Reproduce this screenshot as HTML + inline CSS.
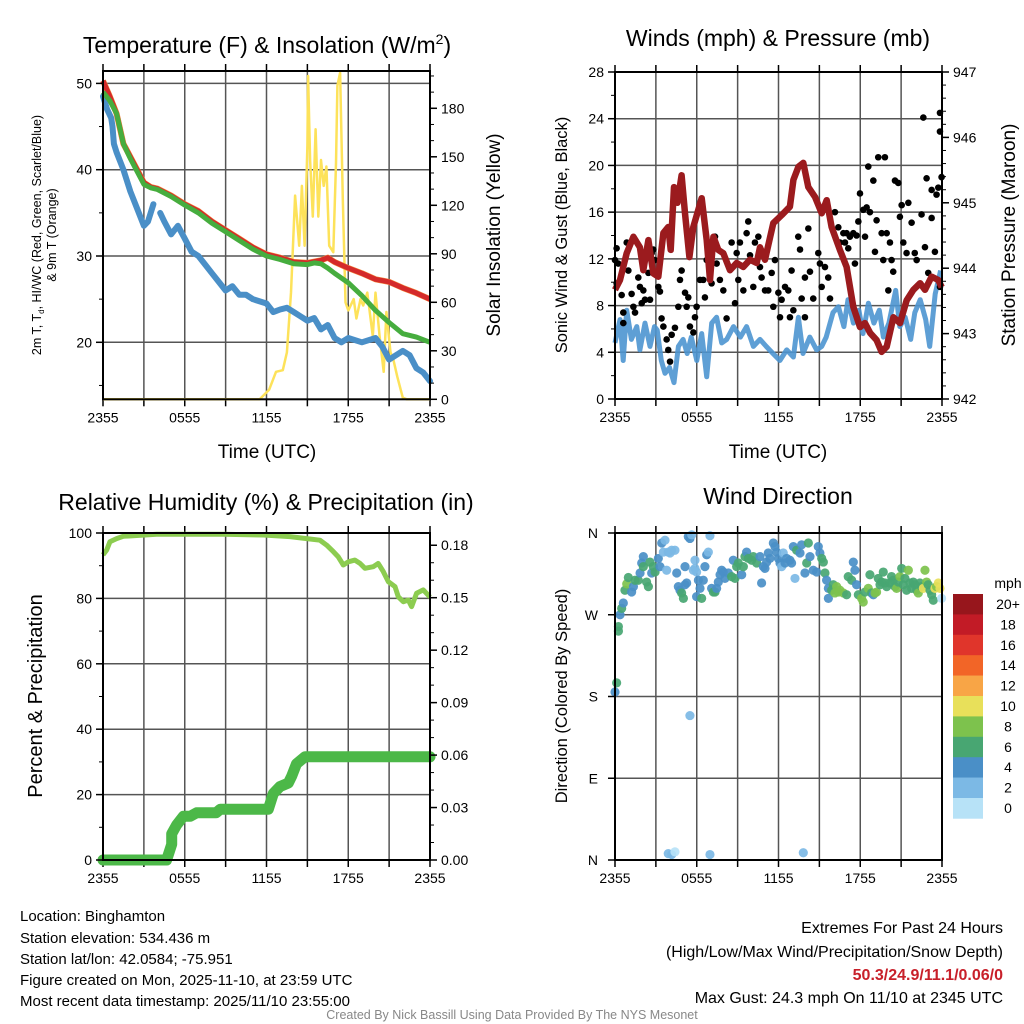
<!DOCTYPE html>
<html><head><meta charset="utf-8"><style>
html,body{margin:0;padding:0;background:#fff;}
svg{display:block;font-family:"Liberation Sans",Arial,sans-serif;}
</style></head><body>
<svg id="fig" width="1024" height="1024" viewBox="0 0 1024 1024" xmlns="http://www.w3.org/2000/svg">
<text x="267" y="53" font-size="23" text-anchor="middle">Temperature (F) &amp; Insolation (W/m<tspan font-size="14" dy="-9">2</tspan><tspan dy="9">)</tspan></text>
<text x="778" y="46" font-size="23" text-anchor="middle">Winds (mph) &amp; Pressure (mb)</text>
<text x="266" y="510" font-size="23" text-anchor="middle">Relative Humidity (%) &amp; Precipitation (in)</text>
<text x="778" y="504" font-size="23" text-anchor="middle">Wind Direction</text>

<text x="267" y="458" font-size="19" text-anchor="middle">Time (UTC)</text>
<text x="778" y="458" font-size="19" text-anchor="middle">Time (UTC)</text>

<text transform="translate(41,235) rotate(-90)" font-size="12.5" text-anchor="middle">2m T, T<tspan font-size="8" dy="3">d</tspan><tspan dy="-3">, HI/WC (Red, Green, Scarlet/Blue)</tspan></text>
<text transform="translate(56,235) rotate(-90)" font-size="12.5" text-anchor="middle">&amp; 9m T (Orange)</text>
<text transform="translate(500,235) rotate(-90)" font-size="19" text-anchor="middle">Solar Insolation (Yellow)</text>
<text transform="translate(567,235) rotate(-90)" font-size="16.5" text-anchor="middle">Sonic Wind &amp; Gust (Blue, Black)</text>
<text transform="translate(1015,235) rotate(-90)" font-size="19" text-anchor="middle">Station Pressure (Maroon)</text>
<text transform="translate(42,696) rotate(-90)" font-size="20" text-anchor="middle">Percent &amp; Precipitation</text>
<text transform="translate(567,696) rotate(-90)" font-size="16.5" text-anchor="middle">Direction (Colored By Speed)</text>

<g id="plots"></g>

<text x="1008" y="588" font-size="14" text-anchor="middle">mph</text>
<g id="cbar"></g>

<g font-size="15">
<text x="20" y="921">Location: Binghamton</text>
<text x="20" y="943">Station elevation: 534.436 m</text>
<text x="20" y="964">Station lat/lon: 42.0584; -75.951</text>
<text x="20" y="985">Figure created on Mon, 2025-11-10, at 23:59 UTC</text>
<text x="20" y="1006">Most recent data timestamp: 2025/11/10 23:55:00</text>
</g>
<g font-size="16" text-anchor="end">
<text x="1003" y="933">Extremes For Past 24 Hours</text>
<text x="1003" y="957">(High/Low/Max Wind/Precipitation/Snow Depth)</text>
<text x="1003" y="980" fill="#c8202a" font-weight="bold">50.3/24.9/11.1/0.06/0</text>
<text x="1003" y="1003">Max Gust: 24.3 mph On 11/10 at 2345 UTC</text>
</g>
<text x="512" y="1019" font-size="12.5" fill="#888" text-anchor="middle">Created By Nick Bassill Using Data Provided By The NYS Mesonet</text>
</svg>
<script>
// ---------- DATA (hours since 2355 UTC) ----------
const xTickLabels = ["2355","0555","1155","1755","2355"];
const tempHours = [0,0.5,1,1.5,2,2.5,3,3.5,4,5,6,7,8,9,10,11,12,13,14,15,16,16.5,17,18,18.5,19,20,21,22,23,24];
const tempValues = [50.3,48.5,46.5,43,41.5,40,38.5,38,37.8,37,36,35.2,34,33,32,31,30.2,29.8,29.3,29.2,29.5,29.8,29.3,28.6,28.3,28,27.3,27,26.3,25.7,25.0];
const wcHours = [0,0.5,1,1.5,2,2.5,3,3.5,4,5,6,7,8,9,10,11,12,13,14,15,15.5,16,16.5,17,18,19,20,21,22,23,24];
const wcValues = [49,48,46.5,43,41.3,39.8,38.3,37.9,37.7,36.9,35.9,35,33.8,32.8,31.8,30.8,30,29.6,29.1,29.0,29.2,29.1,28.6,28,26.9,25.4,23.7,22.3,21,20.6,20.0];
const tdHours = [0,0.3,0.6,0.7,0.8,1,1.5,2,2.5,3,3.3,3.7,null,4.2,4.5,5,5.5,6,6.5,7,7.5,8,8.5,9,9.5,10,10.5,11,12,12.5,13,13.5,14,14.5,15,15.5,16,16.5,17,17.5,18,19,20,20.5,21,22,22.5,23,23.5,24];
const tdValues = [48.5,47,46,45,43,42,40,37.5,35.5,33.5,34,36,null,35,34,32.5,33.5,32,30.5,30,29,28,27,26,26.5,25.5,25.5,25,24.5,23.5,23.8,24,23.5,23,22.5,22.8,21.5,22,20.5,20,20.5,20,20.5,19.5,18,19,18.5,17,16.5,15.5];
const solarHours = [0,11.5,12.2,12.7,13.2,13.5,13.8,14.1,14.4,14.6,14.8,15.0,15.05,15.2,15.4,15.6,15.8,16.0,16.2,16.4,16.6,16.9,17.1,17.2,17.4,17.6,17.8,18.0,18.4,18.6,18.9,19.1,19.4,19.8,20.0,20.3,20.6,20.8,21.1,21.3,21.6,22.0,22.3,24];
const solarValues = [0,0,6,17,18,29,66,126,95,132,95,157,200,148,113,167,113,148,132,144,95,91,146,194,202,124,60,55,62,50,62,58,66,39,66,39,17,54,29,25,14,1,0,0];

const pressHours = [0,0.37,0.86,1.35,1.83,2.08,2.45,2.81,3.18,3.55,3.91,4.09,4.33,4.58,4.89,5.14,5.46,5.75,6.36,6.73,6.97,7.22,7.58,7.95,8.44,8.93,9.42,9.91,10.4,10.64,11.01,11.62,12.23,12.84,13.09,13.46,13.82,14.19,14.68,15.17,15.54,15.9,16.51,17.0,17.49,17.98,18.35,18.72,19.2,19.57,19.94,20.43,20.92,21.41,21.9,22.39,22.75,23.24,23.73,23.98];
const pressValues = [943.67,943.82,944.23,944.48,944.32,943.97,944.43,943.92,943.87,944.54,944.63,944.28,945.24,945.0,945.42,944.84,944.17,944.63,945.07,944.43,943.82,944.48,944.28,944.23,943.97,944.08,944.02,944.13,944.08,944.32,944.13,944.69,944.81,944.94,945.35,945.55,945.61,945.24,945.09,944.84,945.04,944.63,944.28,944.02,943.41,943.1,943.16,943.01,942.9,942.72,942.8,943.25,943.16,943.51,943.67,943.77,943.67,943.87,943.82,943.71];
const windHours = [0,0.37,0.6,0.86,1.2,1.6,1.83,2.2,2.57,2.9,3.1,3.4,3.67,4.0,4.33,4.65,5.0,5.3,5.6,6.0,6.36,6.73,7.1,7.46,7.83,8.2,8.7,9.2,9.66,10.16,10.64,11.1,11.6,12.1,12.6,13.09,13.46,13.8,14.3,14.8,15.17,15.5,16.0,16.4,16.8,17.1,17.5,17.9,18.2,18.6,19.0,19.4,19.7,20.1,20.6,20.9,21.3,21.7,22.0,22.4,22.8,23.1,23.5,23.9];
const windValues = [4.8,6.8,3.3,7.6,5.1,6.2,4.2,6.5,4.5,6.2,5.9,3.3,2.2,2.7,1.4,4.5,5.1,3.9,5.3,3.3,5.6,1.9,6.5,7.0,4.8,5.1,6.2,5.3,6.2,4.5,5.1,4.5,3.9,3.3,4.2,3.6,7.0,3.9,5.3,4.2,4.5,5.3,7.4,7.9,6.2,8.5,6.5,7.6,5.6,8.2,6.5,7.6,5.3,6.5,9.3,6.2,7.0,5.1,7.4,8.5,6.8,4.5,9.0,11.0];
const gustHours = [0,0.12,0.24,0.12,0.49,0.61,0.61,0.86,0.98,1.22,1.35,1.47,1.71,1.83,1.96,2.08,2.2,2.45,2.57,2.69,2.81,2.93,3.18,3.3,3.42,3.55,3.79,3.91,4.04,4.16,4.4,4.65,4.77,4.89,5.14,5.26,5.38,5.5,5.75,5.87,5.99,6.24,6.48,6.6,6.73,7.09,7.34,7.46,7.7,7.95,8.19,8.56,8.81,8.93,9.05,9.17,9.42,9.66,9.78,9.91,10.15,10.27,10.52,10.64,10.76,11.01,11.25,11.5,11.62,11.74,11.99,12.11,12.23,12.48,12.72,12.84,12.96,13.09,13.45,13.58,13.7,13.94,13.94,14.19,14.31,14.55,14.92,15.04,15.17,15.41,15.65,15.78,16.14,16.39,16.51,16.76,16.88,17.0,17.12,17.24,17.49,17.61,17.73,17.86,17.98,18.22,18.35,18.47,18.59,18.71,18.96,19.08,19.2,19.32,19.57,19.69,19.81,19.94,20.06,20.18,20.3,20.42,20.55,20.79,20.91,21.04,21.16,21.4,21.53,21.77,22.0,22.14,22.5,22.63,22.75,22.87,22.99,23.24,23.24,23.48,23.6,23.73,23.85,23.85,23.97,23.85];
const gustValues = [11.9,12.9,11.6,9.9,8.9,7.4,6.5,13.4,11.0,9.0,7.9,7.4,10.4,9.6,8.2,9.3,8.5,10.8,8.5,12.5,12.8,11.9,9.6,9.2,6.9,6.2,5.1,4.2,3.2,5.5,6.1,7.9,10.2,11.0,9.1,7.9,8.7,6.2,5.7,7.0,7.9,10.2,10.2,8.7,11.9,9.9,13.9,11.6,10.2,9.3,6.9,13.4,8.2,12.5,10.2,13.4,9.3,14.2,15.2,12.3,9.6,13.4,13.9,11.3,10.4,9.3,9.3,10.8,7.9,11.9,9.1,7.0,8.5,9.6,9.3,7.0,11.0,7.6,13.9,12.8,8.6,10.4,7.0,14.6,10.9,8.6,12.5,11.6,9.6,11.3,10.4,8.6,16.0,14.7,13.4,14.2,13.4,14.2,12.9,13.9,14.2,11.6,14.0,15.2,17.6,16.2,13.9,16.4,19.9,16.0,18.7,12.6,15.3,20.7,14.2,11.9,20.7,14.2,9.3,13.4,11.9,10.9,18.7,18.5,15.6,16.6,13.4,12.5,16.8,15.1,12.5,11.9,15.8,24.1,13.0,18.9,10.8,15.5,17.9,12.6,17.5,18.1,24.5,22.9,19.0,9.6];

const rhHours = [0,0.27,0.51,1.0,1.49,3.94,8.83,11.77,13.72,14.95,15.92,16.41,16.9,17.27,17.64,18.0,18.49,18.86,19.23,19.84,20.2,20.57,20.94,21.43,21.67,22.04,22.41,22.65,23.02,23.51,24.0];
const rhValues = [93.3,94.8,97.3,98.3,99.0,99.6,99.6,99.4,98.9,98.3,97.8,96.3,94.3,92.7,90.2,91.2,91.7,90.7,89.2,89.7,90.7,88.2,85.1,83.6,80.5,79.0,79.5,77.5,81.6,82.6,80.4];
const precipHours = [0,4.67,5.04,5.04,5.4,5.9,6.4,6.87,8.3,8.6,12.13,12.5,12.99,13.6,13.85,14.2,14.82,24];
const precipValues = [0,0,0.009,0.015,0.020,0.025,0.025,0.027,0.027,0.029,0.029,0.038,0.042,0.044,0.048,0.055,0.059,0.059];

const dirHours = [0.0,0.12,0.25,0.25,0.37,0.49,0.61,0.73,0.86,0.98,1.22,1.35,1.47,1.71,1.84,1.96,2.08,2.08,2.32,2.45,2.57,2.69,2.81,2.94,3.18,3.3,3.43,3.55,3.67,3.79,3.91,4.04,4.16,4.4,4.53,4.65,4.77,4.89,5.02,5.14,5.26,5.14,5.38,5.5,5.63,5.75,5.87,5.87,5.99,5.99,6.12,6.24,6.36,6.48,6.6,6.73,6.85,6.97,7.09,7.22,7.34,7.46,7.58,7.71,7.83,7.95,8.07,8.32,8.56,8.68,8.81,8.93,9.05,9.3,9.42,9.54,9.66,9.79,10.03,10.15,10.4,10.64,10.76,10.89,11.01,11.13,11.25,11.37,11.62,11.74,11.86,11.99,12.11,12.23,12.35,12.48,12.6,12.84,12.96,13.09,13.21,13.33,13.58,13.7,13.94,14.07,14.19,14.31,14.55,14.8,14.92,15.04,15.17,15.29,15.41,15.53,15.66,15.66,15.9,16.02,16.14,16.27,16.39,16.51,16.76,17.0,17.12,17.37,17.49,17.61,17.73,17.86,18.1,18.22,18.35,18.59,18.71,18.83,18.96,19.08,19.2,19.32,19.45,19.57,19.69,19.81,19.94,20.18,20.3,20.42,20.55,20.67,20.79,20.91,21.04,21.16,21.28,21.4,21.53,21.65,21.77,21.89,22.02,22.14,22.26,22.38,22.5,22.63,22.75,22.87,22.99,23.12,23.24,23.36,23.48,23.6,23.73,23.85,23.97];
const dirValues = [185,195,257,252,270,277,283,297,304,311,295,301,308,308,316,327,334,323,306,301,328,316,323,317,332,323,349,339,352,319,339,338,341,341,316,301,297,294,288,303,305,323,356,354,358,319,321,330,317,290,308,299,288,308,323,336,339,357,299,295,295,299,306,314,319,317,310,316,312,330,310,323,327,314,323,334,339,332,330,334,327,334,305,323,321,328,338,332,349,345,339,332,327,323,338,327,332,330,327,345,310,341,338,347,316,327,349,334,319,317,345,338,332,328,316,308,299,288,297,303,294,301,295,297,294,292,312,308,328,319,303,292,288,284,295,299,314,294,292,294,295,310,303,306,317,305,301,305,312,308,301,299,306,312,321,303,310,297,319,305,299,306,303,297,294,305,301,299,319,306,303,297,292,286,299,301,305,299,288];
const dirSpeeds = [4,6,6,6,4,6,4,6,8,6,4,4,6,6,4,4,4,6,6,6,6,4,6,6,4,4,4,2,2,2,2,2,2,2,4,4,4,6,6,4,4,4,4,4,2,2,2,2,2,4,4,4,6,4,4,4,2,2,4,6,6,4,4,4,4,4,4,4,6,4,6,6,6,4,6,6,4,6,6,6,6,4,4,4,4,4,4,4,4,4,4,4,4,2,2,4,4,4,4,4,2,6,4,4,4,6,6,4,4,4,4,4,6,6,6,4,4,4,6,6,8,8,8,8,8,6,6,6,4,4,4,6,8,8,6,8,6,6,4,8,8,6,6,6,6,6,6,6,6,6,6,8,6,8,6,6,6,6,8,6,6,6,6,6,8,6,6,10,8,8,6,6,6,6,10,8,10,10];
const calmHours = [5.5,3.91,4.16,4.4,6.97,13.82];
const calmDirs = [159,7,6,9,6,8];
const calmSpeeds = [2,2,2,0,2,2];

const cbarLabels = ["20+","18","16","14","12","10","8","6","4","2","0"];
const cbarColors = ["#97161c","#c21b26","#e0352b","#f26527","#f8a546","#e8e05a","#7dc24d","#48a672","#4a8fc7","#7cb9e5","#b7e2f7"];

// ---------- RENDER ----------
const NS="http://www.w3.org/2000/svg";
const root=document.getElementById('plots');
function mk(tag,attrs,parent){const e=document.createElementNS(NS,tag);for(const k in attrs)e.setAttribute(k,attrs[k]);(parent||root).appendChild(e);return e;}
function linScale(d0,d1,r0,r1){return v=>r0+(v-d0)/(d1-d0)*(r1-r0);}

function panelFrame(name,x0,x1,y0,y1,hGrid,yScale){
  const g=mk('g',{});
  
  
  const sx=linScale(0,24,x0,x1);
  for(let h=3;h<24;h+=3){
    const l=mk('line',{x1:sx(h),x2:sx(h),y1:y0,y2:y1,stroke:'#555','stroke-width':1.5},g);
    
    
  }
  hGrid.forEach(v=>{
    const l=mk('line',{x1:x0,x2:x1,y1:yScale(v),y2:yScale(v),stroke:'#555','stroke-width':1.5},g);
    
    
  });
  for(let h=0;h<=24;h+=3){
    const t=mk('line',{x1:sx(h),x2:sx(h),y1:y1,y2:y1+7,stroke:'#000','stroke-width':1.5},g);
    
    
    const t2=mk('line',{x1:sx(h),x2:sx(h),y1:y0,y2:y0-7,stroke:'#000','stroke-width':1.5},g);
    
    
  }
  xTickLabels.forEach((s,i)=>{
    const t=mk('text',{x:sx(i*6),y:y1+23,'font-size':14,'text-anchor':'middle'},g);
    
    
    t.textContent=s;
  });
  return {g,sx};
}
function border(g,x0,x1,y0,y1){
  const r=mk('rect',{x:x0,y:y0,width:x1-x0,height:y1-y0,fill:'none',stroke:'#000','stroke-width':2},g);
  
  
}
function yAxis(g,side,x,scale,majors,minors,fmt){
  const dir=side==='left'?-1:1;
  majors.forEach(v=>{
    const t=mk('line',{x1:x,x2:x+dir*7,y1:scale(v),y2:scale(v),stroke:'#000','stroke-width':1.5},g);
    
    
    const l=mk('text',{x:x+dir*11,y:scale(v)+5,'font-size':14,'text-anchor':side==='left'?'end':'start'},g);
    
    
    l.textContent=fmt(v);
  });
  minors.forEach(v=>{
    const t=mk('line',{x1:x,x2:x+dir*4,y1:scale(v),y2:scale(v),stroke:'#000','stroke-width':1},g);
    
    
  });
}
function pathFrom(hs,vs,sx,sy){
  let d='',pen=false;
  for(let i=0;i<hs.length;i++){
    if(hs[i]===null||vs[i]===null){pen=false;continue;}
    d+=(pen?'L':'M')+sx(hs[i]).toFixed(1)+','+sy(vs[i]).toFixed(1);pen=true;
  }
  return d;
}
function range(a,b,s){const r=[];for(let v=a;v<=b+1e-9;v+=s)r.push(+v.toFixed(4));return r;}

// Panel 1
(function(){
  const x0=103,x1=430,y0=71,y1=399.3;
  const yT=linScale(20,50,342.3,83.4);
  const yS=linScale(0,180,399.3,108.3);
  const {g,sx}=panelFrame('temperature',x0,x1,y0,y1,[20,30,40,50],yT);
  const s=mk('path',{d:pathFrom(solarHours,solarValues,sx,yS),fill:'none',stroke:'#fde25a','stroke-width':2.5,'stroke-linejoin':'round'},g);
  
  
  const td=mk('path',{d:pathFrom(tdHours,tdValues,sx,yT),fill:'none',stroke:'#4a8fc7','stroke-width':6,'stroke-linejoin':'round','stroke-linecap':'round'},g);
  
  
  const o=mk('path',{d:pathFrom(tempHours,tempValues,sx,yT),fill:'none',stroke:'#f4873a','stroke-width':6,'stroke-linejoin':'round'},g);
  
  
  const t=mk('path',{d:pathFrom(tempHours,tempValues,sx,yT),fill:'none',stroke:'#d42a2a','stroke-width':5,'stroke-linejoin':'round'},g);
  
  
  const w=mk('path',{d:pathFrom(wcHours,wcValues,sx,yT),fill:'none',stroke:'#46ad3e','stroke-width':5,'stroke-linejoin':'round'},g);
  
  
  border(g,x0,x1,y0,y1);
  yAxis(g,'left',x0,yT,[20,30,40,50],[15,25,35,45],v=>v);
  yAxis(g,'right',x1,yS,range(0,180,30),range(10,200,10),v=>v);
})();

// Panel 2
(function(){
  const x0=615,x1=942,y0=72,y1=399;
  const yW=linScale(0,28,399,72);
  const yP=linScale(942,947,399,72);
  const {g,sx}=panelFrame('winds',x0,x1,y0,y1,[4,8,12,16,20,24],yW);
  const w=mk('path',{d:pathFrom(windHours,windValues,sx,yW),fill:'none',stroke:'#4d95d0','stroke-width':5,'stroke-linejoin':'round','opacity':0.9},g);
  
  
  gustHours.forEach((h,i)=>{
    const c=mk('circle',{cx:sx(h),cy:yW(gustValues[i]),r:3.3,fill:'#000'},g);
    
    
  });
  const p=mk('path',{d:pathFrom(pressHours,pressValues,sx,yP),fill:'none',stroke:'#9b1b1e','stroke-width':6.5,'stroke-linejoin':'round'},g);
  
  
  border(g,x0,x1,y0,y1);
  yAxis(g,'left',x0,yW,range(0,28,4),range(2,26,4),v=>v);
  yAxis(g,'right',x1,yP,range(942,947,1),range(942.2,946.8,0.2),v=>v);
})();

// Panel 3
(function(){
  const x0=103,x1=430,y0=533,y1=860;
  const yR=linScale(0,100,860,533);
  const yPr=linScale(0,0.15,860,597.7);
  const {g,sx}=panelFrame('humidity',x0,x1,y0,y1,[20,40,60,80],yR);
  const p=mk('path',{d:pathFrom(precipHours,precipValues,sx,yPr),fill:'none',stroke:'#4cb848','stroke-width':11,'stroke-linejoin':'round','stroke-linecap':'round'},g);
  
  
  const r=mk('path',{d:pathFrom(rhHours,rhValues,sx,yR),fill:'none',stroke:'#8ccc50','stroke-width':5,'stroke-linejoin':'round'},g);
  
  
  border(g,x0,x1,y0,y1);
  yAxis(g,'left',x0,yR,range(0,100,20),range(10,90,20),v=>v);
  yAxis(g,'right',x1,yPr,range(0,0.18,0.03),range(0.01,0.18,0.01),v=>v.toFixed(2));
})();

// Panel 4
(function(){
  const x0=615,x1=942,y0=533,y1=860;
  const yD=linScale(0,360,860,533);
  const {g,sx}=panelFrame('direction',x0,x1,y0,y1,[90,180,270],yD);
  const spdColor=s=>cbarColors[10-Math.max(0,Math.min(10,Math.floor((s||0)/2)))];
  const n=Math.min(dirHours.length,dirValues.length);
  for(let i=0;i<n;i++){
    const c=mk('circle',{cx:sx(dirHours[i]),cy:yD(dirValues[i]),r:4.6,fill:spdColor(dirSpeeds[i]),opacity:0.92},g);
    
    
  }
  calmHours.forEach((h,i)=>{
    const c=mk('circle',{cx:sx(h),cy:yD(calmDirs[i]),r:4.6,fill:spdColor(calmSpeeds[i]),opacity:0.92},g);
    
    
  });
  border(g,x0,x1,y0,y1);
  const dl=["N","E","S","W","N"];
  dl.forEach((s,i)=>{
    const t=mk('line',{x1:x0,x2:x0-7,y1:yD(i*90),y2:yD(i*90),stroke:'#000','stroke-width':1.5},g);
    
    
    const l=mk('text',{x:x0-17,y:yD(i*90)+5,'font-size':14,'text-anchor':'end'},g);
    
    
    l.textContent=s;
  });
})();

// Colorbar
(function(){
  const cb=document.getElementById('cbar');
  
  
  const top=594,bh=20.4;
  cbarColors.forEach((c,i)=>{
    const r=mk('rect',{x:953,y:top+i*bh,width:30,height:bh+0.3,fill:c},cb);
    
    
    const t=mk('text',{x:1008,y:top+i*bh+15,'font-size':14,'text-anchor':'middle'},cb);
    
    
    t.textContent=cbarLabels[i];
  });
})();
</script>
</body></html>
